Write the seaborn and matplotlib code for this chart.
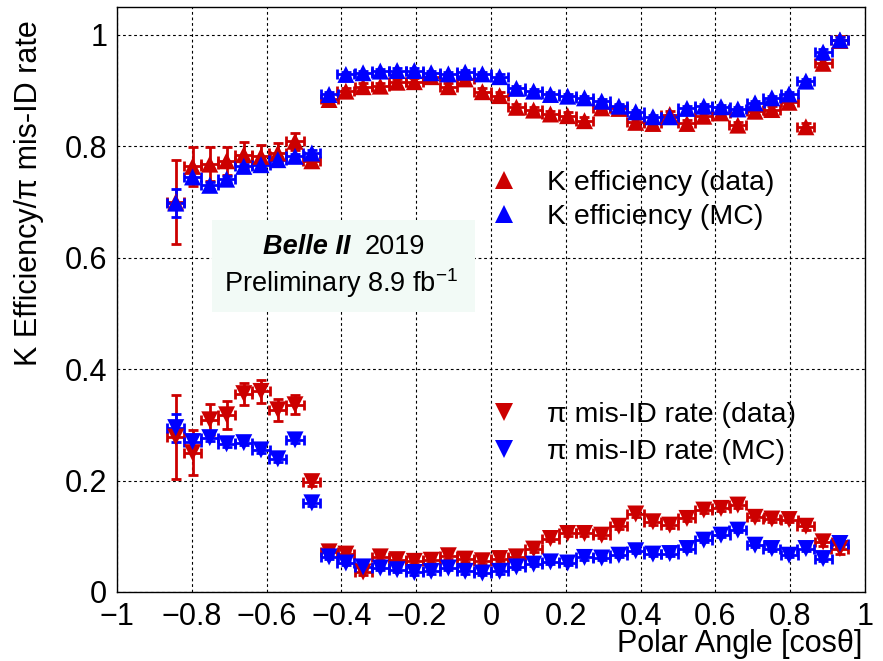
import numpy as np
import pandas as pd
import matplotlib
matplotlib.use("Agg")
import matplotlib.pyplot as plt
import seaborn as sns
from matplotlib.lines import Line2D
from matplotlib.patches import Rectangle
from matplotlib.ticker import MultipleLocator, FuncFormatter

# ---------------- data ----------------
cos_theta = [-0.843, -0.798, -0.752, -0.707, -0.661, -0.615, -0.570, -0.524, -0.479, -0.433,
             -0.388, -0.342, -0.296, -0.251, -0.205, -0.160, -0.114, -0.069, -0.023, 0.023,
             0.068, 0.114, 0.159, 0.205, 0.250, 0.296, 0.342, 0.387, 0.433, 0.478,
             0.524, 0.569, 0.615, 0.660, 0.706, 0.751, 0.797, 0.842, 0.888, 0.933]
bin_halfwidth = [0.0228] * 40

k_eff_data = [0.700, 0.764, 0.768, 0.774, 0.785, 0.782, 0.788, 0.809, 0.774, 0.884,
              0.899, 0.907, 0.908, 0.915, 0.916, 0.925, 0.907, 0.921, 0.898, 0.891,
              0.870, 0.865, 0.858, 0.855, 0.846, 0.869, 0.868, 0.843, 0.841, 0.857,
              0.841, 0.854, 0.860, 0.838, 0.863, 0.866, 0.879, 0.835, 0.949, 0.990]
k_eff_data_err = [0.075, 0.035, 0.030, 0.025, 0.022, 0.020, 0.018, 0.015, 0.010, 0.006,
                  0.006, 0.006, 0.006, 0.006, 0.006, 0.006, 0.006, 0.006, 0.006, 0.006,
                  0.006, 0.006, 0.006, 0.006, 0.006, 0.006, 0.006, 0.006, 0.006, 0.006,
                  0.006, 0.006, 0.006, 0.006, 0.006, 0.006, 0.006, 0.006, 0.008, 0.008]
k_eff_mc = [0.698, 0.745, 0.730, 0.741, 0.764, 0.767, 0.776, 0.782, 0.788, 0.893,
            0.929, 0.932, 0.935, 0.936, 0.936, 0.932, 0.930, 0.933, 0.930, 0.925,
            0.904, 0.899, 0.893, 0.890, 0.887, 0.881, 0.872, 0.862, 0.853, 0.853,
            0.868, 0.872, 0.871, 0.867, 0.878, 0.887, 0.894, 0.917, 0.969, 0.991]
k_eff_mc_err = [0.025, 0.010, 0.006, 0.005, 0.005, 0.005, 0.005, 0.005, 0.005, 0.004,
                0.004, 0.004, 0.004, 0.004, 0.004, 0.004, 0.004, 0.004, 0.004, 0.004,
                0.004, 0.004, 0.004, 0.004, 0.004, 0.004, 0.004, 0.004, 0.004, 0.004,
                0.004, 0.004, 0.004, 0.004, 0.004, 0.004, 0.004, 0.004, 0.005, 0.005]

pi_mis_data = [0.278, 0.250, 0.309, 0.318, 0.356, 0.360, 0.327, 0.336, 0.198, 0.072,
               0.068, 0.036, 0.063, 0.058, 0.055, 0.057, 0.065, 0.059, 0.056, 0.060,
               0.063, 0.077, 0.096, 0.105, 0.105, 0.102, 0.118, 0.140, 0.126, 0.120,
               0.132, 0.147, 0.150, 0.156, 0.134, 0.131, 0.130, 0.118, 0.090, 0.078]
pi_mis_data_err = [0.076, 0.040, 0.028, 0.025, 0.020, 0.020, 0.020, 0.017, 0.008, 0.005,
                   0.005, 0.005, 0.005, 0.005, 0.005, 0.005, 0.005, 0.005, 0.005, 0.005,
                   0.005, 0.005, 0.005, 0.005, 0.005, 0.005, 0.005, 0.005, 0.005, 0.005,
                   0.005, 0.005, 0.005, 0.005, 0.005, 0.005, 0.005, 0.006, 0.007, 0.010]
pi_mis_mc = [0.295, 0.270, 0.277, 0.266, 0.268, 0.255, 0.239, 0.273, 0.160, 0.063,
             0.052, 0.045, 0.043, 0.040, 0.035, 0.037, 0.043, 0.037, 0.034, 0.037,
             0.045, 0.050, 0.054, 0.052, 0.062, 0.061, 0.066, 0.074, 0.068, 0.069,
             0.078, 0.093, 0.102, 0.111, 0.084, 0.078, 0.066, 0.078, 0.060, 0.087]
pi_mis_mc_err = [0.025, 0.010, 0.006, 0.005, 0.005, 0.005, 0.005, 0.005, 0.005, 0.004,
                 0.004, 0.004, 0.004, 0.004, 0.004, 0.004, 0.004, 0.004, 0.004, 0.004,
                 0.004, 0.004, 0.004, 0.004, 0.004, 0.004, 0.004, 0.004, 0.004, 0.004,
                 0.004, 0.004, 0.004, 0.004, 0.004, 0.004, 0.004, 0.004, 0.005, 0.005]

series_labels = ["K efficiency (data)", "K efficiency (MC)",
                 "\u03c0 mis-ID rate (data)", "\u03c0 mis-ID rate (MC)"]

# ---------------- style ----------------
sns.set_style("white")
plt.rcParams["font.family"] = ["Liberation Sans", "DejaVu Sans"]
plt.rcParams["mathtext.fontset"] = "custom"
plt.rcParams["mathtext.rm"] = "Liberation Sans"
plt.rcParams["mathtext.it"] = "Liberation Sans:italic"
plt.rcParams["mathtext.bf"] = "Liberation Sans:bold"
for key in ["text.color", "axes.labelcolor", "xtick.color", "ytick.color",
            "xtick.labelcolor", "ytick.labelcolor"]:
    plt.rcParams[key] = "black"
plt.rcParams["legend.labelcolor"] = "black"

RED = "#cc0000"
BLUE = "#0000ff"

fig = plt.figure(figsize=(8.83, 6.61), dpi=100)
ax = fig.add_axes([0.1325, 0.1044, 0.8471, 0.885])

# long-form table for seaborn (blue drawn after red)
frames = []
for lab, yv in [(series_labels[0], k_eff_data), (series_labels[2], pi_mis_data),
                (series_labels[1], k_eff_mc), (series_labels[3], pi_mis_mc)]:
    frames.append(pd.DataFrame({"x": cos_theta, "y": yv, "series": lab}))
df = pd.concat(frames, ignore_index=True)

palette = {series_labels[0]: RED, series_labels[1]: BLUE,
           series_labels[2]: RED, series_labels[3]: BLUE}
markers = {series_labels[0]: "^", series_labels[1]: "^",
           series_labels[2]: "v", series_labels[3]: "v"}

# error bars
err_sets = [(k_eff_data, k_eff_data_err, RED), (pi_mis_data, pi_mis_data_err, RED),
            (k_eff_mc, k_eff_mc_err, BLUE), (pi_mis_mc, pi_mis_mc_err, BLUE)]
for i, (yv, ye, c) in enumerate(err_sets):
    ax.errorbar(cos_theta, yv, yerr=ye, xerr=bin_halfwidth, fmt="none", ecolor=c,
                elinewidth=2.0, capsize=3.5, capthick=2.0, zorder=3 + i)

sns.scatterplot(data=df, x="x", y="y", hue="series", style="series",
                palette=palette, markers=markers, s=150, linewidth=0,
                legend=False, ax=ax, zorder=8)

# axes
ax.set_xlim(-1, 1)
ax.set_ylim(0, 1.05)
ax.xaxis.set_major_locator(MultipleLocator(0.2))
ax.xaxis.set_minor_locator(MultipleLocator(0.05))
ax.yaxis.set_major_locator(MultipleLocator(0.2))
ax.yaxis.set_minor_locator(MultipleLocator(0.05))
fmt = FuncFormatter(lambda v, p: ("%g" % round(v, 2)).replace("-", "\u2212"))
ax.xaxis.set_major_formatter(fmt)
ax.yaxis.set_major_formatter(fmt)
ax.tick_params(axis="both", which="both", direction="in", top=False, right=False,
               width=1, colors="black", labelsize=22)
ax.tick_params(axis="x", which="major", length=14, pad=7)
ax.tick_params(axis="x", which="minor", length=7)
ax.tick_params(axis="y", which="major", length=10, pad=7)
ax.tick_params(axis="y", which="minor", length=5)
for sp in ax.spines.values():
    sp.set_color("black")
    sp.set_linewidth(1.0)
ax.set_axisbelow(True)
ax.grid(True, which="major", color="black", linestyle=(0, (2.5, 2.5)), linewidth=0.8)

ax.set_xlabel("Polar Angle [cos\u03b8]", fontsize=22, loc="right", color="black")
ax.xaxis.set_label_coords(0.997, -0.064)
ax.set_ylabel("K Efficiency/\u03c0 mis-ID rate", fontsize=22, loc="top", color="black")
ax.yaxis.set_label_coords(-0.097, 0.978)

# info box
ax.add_patch(Rectangle((0.127, 0.479), 0.352, 0.157, transform=ax.transAxes,
                       facecolor="#f2faf6", edgecolor="none", zorder=2))
ax.text(0.3115, 0.5897, "Belle II", transform=ax.transAxes, fontsize=19.5,
        fontweight="bold", fontstyle="italic", ha="right", va="center", zorder=9,
        color="black")
ax.text(0.3316, 0.5897, "2019", transform=ax.transAxes, fontsize=19.5,
        ha="left", va="center", zorder=9, color="black")
ax.text(0.300, 0.528, "Preliminary 8.9 fb$^{\u22121}$", transform=ax.transAxes,
        fontsize=19.5, ha="center", va="center", zorder=9, color="black")

# legends
def handle(c, m):
    return Line2D([], [], color=c, marker=m, linestyle="none", markersize=13,
                  markeredgewidth=0)

leg1 = ax.legend([handle(RED, "^"), handle(BLUE, "^")], series_labels[:2],
                 loc="upper left", bbox_to_anchor=(0.499, 0.721), frameon=False,
                 fontsize=20.5, handlelength=1.0, handletextpad=1.0,
                 labelspacing=0.26, borderpad=0, borderaxespad=0,
                 labelcolor="black")
ax.add_artist(leg1)
ax.legend([handle(RED, "v"), handle(BLUE, "v")], series_labels[2:],
          loc="upper left", bbox_to_anchor=(0.499, 0.325), frameon=False,
          fontsize=20.5, handlelength=1.0, handletextpad=1.0,
          labelspacing=0.4, borderpad=0, borderaxespad=0, labelcolor="black")

fig.savefig("out.png", dpi=100)
